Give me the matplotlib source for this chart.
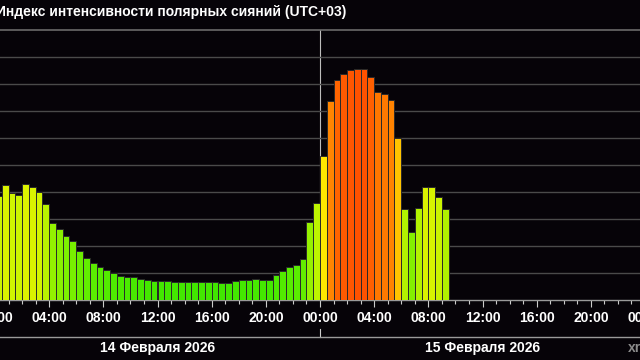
"""Aurora intensity index, half-hourly bars, dark theme."""
import numpy as np
import pandas as pd
import matplotlib
matplotlib.use("Agg")
import matplotlib.pyplot as plt
import matplotlib.dates as mdates
import matplotlib.transforms as mtrans
from matplotlib.colors import LinearSegmentedColormap
from matplotlib.lines import Line2D

# --- data -------------------------------------------------------------------
title = "Индекс интенсивности полярных сияний (UTC+03)"
day_labels = ["14 Февраля 2026", "15 Февраля 2026"]
days = pd.to_datetime(["2026-02-14", "2026-02-15", "2026-02-16"])
times = pd.date_range("2026-02-14 00:00", periods=67, freq="30min")
aurora = [
    38.5, 42.5, 39.5, 38.9, 42.8, 42.0, 40.1, 35.4,
    28.4, 26.2, 23.7, 22.0, 18.0, 15.4, 13.6, 12.3, 11.1,
    9.9, 9.0, 8.6, 8.4, 7.7, 7.4, 7.1, 7.0, 6.9, 6.7, 6.7, 6.5, 6.5, 6.7, 6.7,
    6.5, 6.4, 6.4, 6.9, 7.3, 7.4, 7.9, 7.4, 7.4, 9.3, 10.6, 12.3, 13.0, 15.3,
    28.9, 36.0,
    53.3, 73.8, 81.4, 83.6, 85.1, 85.7, 85.6, 82.5, 76.9, 76.2, 74.1, 59.9,
    33.6, 25.1, 34.2, 42.0, 41.7, 38.3, 33.6,
]

# --- style ------------------------------------------------------------------
BG = "#060308"
plt.rcParams.update({
    "font.family": ["Liberation Sans", "DejaVu Sans"],
    "font.weight": "bold",
    "font.size": 10,
})

cmap = LinearSegmentedColormap.from_list("aurora", [
    (0.00, "#28e100"),
    (0.10, "#50eb00"),
    (0.25, "#82f000"),
    (0.40, "#d2f500"),
    (0.53, "#ffea00"),
    (0.60, "#ffc400"),
    (0.72, "#ff8c00"),
    (0.78, "#ff7200"),
    (0.86, "#ff5200"),
    (1.00, "#ff1000"),
])

W, H = 640, 360
fig = plt.figure(figsize=(W / 100, H / 100), dpi=100, facecolor=BG)
# axes spans a bit past the left/right edges, as in the cropped original
ax = fig.add_axes([-5 / W, 60 / H, 650 / W, 270 / H], facecolor=BG)

vals = np.array(aurora)
ax.bar(times, vals, width=1 / 48, align="edge",
       color=cmap(vals / 100), edgecolor="#2a2a2a", linewidth=0.7, zorder=3)

ax.set_xlim(days[0], days[2])
ax.set_ylim(0, 100)
ax.set_yticks(np.arange(10, 100, 10))
ax.yaxis.grid(True, color="#4a4a4a", linewidth=1.0, zorder=0)
ax.tick_params(axis="y", left=False, labelleft=False)

ax.axvline(days[1], color="#bdbdbd", linewidth=0.8, zorder=1)

for side in ("left", "right"):
    ax.spines[side].set_visible(False)
ax.spines["top"].set_color("#6a6a6a")
ax.spines["bottom"].set_color("#9a9a9a")
ax.spines["top"].set_linewidth(1.2)
ax.spines["bottom"].set_linewidth(1.0)

ax.xaxis.set_major_locator(mdates.HourLocator(byhour=range(0, 24, 4)))
ax.xaxis.set_minor_locator(mdates.HourLocator())
ax.xaxis.set_major_formatter(mdates.DateFormatter("%H:%M"))
ax.tick_params(axis="x", which="major", length=5, width=0.8, color="#cccccc",
               labelcolor="white", labelsize=10, pad=3)
ax.tick_params(axis="x", which="minor", length=3, width=0.8, color="#cccccc")

# date row under the time labels
sep_y = 1 - 337 / H
fig.add_artist(Line2D([0, 1], [sep_y, sep_y], color="#9a9a9a", linewidth=1.0))
blend = mtrans.blended_transform_factory(ax.transData, fig.transFigure)
ax.plot([days[1], days[1]], [sep_y, 1 - 329 / H], color="#cccccc",
        linewidth=0.8, transform=blend, clip_on=False)
for d0, d1, lbl in zip(days[:-1], days[1:], day_labels):
    ax.text(d0 + (d1 - d0) / 2, 1 - 348 / H, lbl, transform=blend,
            ha="center", va="center", color="white", fontsize=10,
            fontweight="bold")

fig.text(628 / W, 1 - 348 / H, "xras.ru", color="#8a8a8a", fontsize=10,
         fontweight="bold", ha="left", va="center")
fig.text(-4 / W, 1 - 12 / H, title, color="white", fontsize=10,
         fontweight="bold", ha="left", va="center")

fig.savefig("out.png", dpi=100, facecolor=BG)
